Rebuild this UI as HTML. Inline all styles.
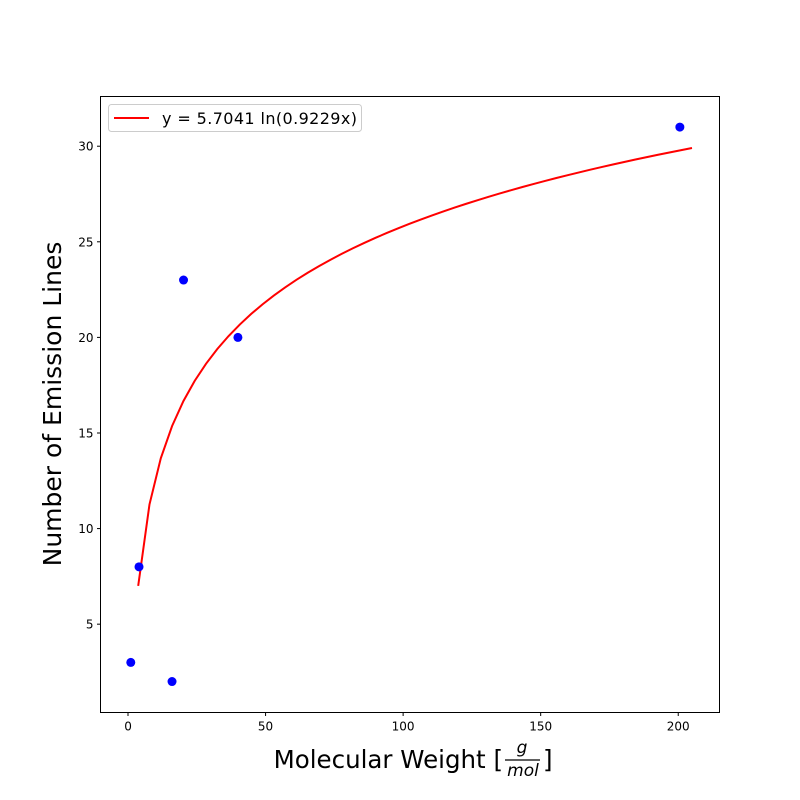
<!DOCTYPE html>
<html><head><meta charset="utf-8">
<style>
body{margin:0;background:#fff;}
svg{display:block;font-family:"DejaVu Sans","Liberation Sans",sans-serif;}
</style></head>
<body>
<svg id="chart" width="800" height="800" viewBox="0 0 800 800">
<rect width="800" height="800" fill="#fff"/>
<g id="marks"></g>
<rect x="100.5" y="96.5" width="619" height="616" fill="none" stroke="#000" stroke-width="1"/>
<g id="ticks"></g>
<text x="503" y="768" font-size="24.5" text-anchor="end">Molecular Weight [</text>
<text x="522" y="753" font-size="17" font-style="italic" text-anchor="middle">g</text>
<line x1="505" y1="760" x2="540" y2="760" stroke="#000" stroke-width="1.2"/>
<text x="523" y="776" font-size="17" font-style="italic" text-anchor="middle">mol</text>
<text x="543" y="768" font-size="24.5">]</text>
<text transform="translate(61,404) rotate(-90)" font-size="25" text-anchor="middle">Number of Emission Lines</text>
<g>
<rect x="108.5" y="104.5" width="253" height="27" rx="3" fill="#fff" stroke="#ccc"/>
<line x1="114" y1="118" x2="149" y2="118" stroke="red" stroke-width="2"/>
<text x="162" y="124" font-size="16" textLength="195">y = 5.7041 ln(0.9229x)</text>
</g>
</svg>
<script>
const pointsX=[1.008,4.0,16.0,20.18,39.95,200.59];
const pointsY=[3,8,2,23,20,31];
const fitCoef=[5.7041,0.9229];
const fitRange=[3.7,205];
const fitCount=50;
const xTicks=[0,50,100,150,200];
const yTicks=[5,10,15,20,25,30];
const X0=100.5,X1=719.5,Y0=712.5,Y1=96.5;
const xMin=-10,xMax=215,yMin=0.38,yMax=32.6;
const sx=v=>X0+(v-xMin)/(xMax-xMin)*(X1-X0);
const sy=v=>Y0-(v-yMin)/(yMax-yMin)*(Y0-Y1);
const NS="http://www.w3.org/2000/svg";
const marks=document.getElementById('marks'),ticks=document.getElementById('ticks');
let d="";
for(let i=0;i<fitCount;i++){
 const x=fitRange[0]+(fitRange[1]-fitRange[0])*i/(fitCount-1);
 const y=fitCoef[0]*Math.log(fitCoef[1]*x);
 d+=(i?"L":"M")+sx(x).toFixed(2)+","+sy(y).toFixed(2);
}
const p=document.createElementNS(NS,'path');
p.setAttribute('d',d);p.setAttribute('fill','none');p.setAttribute('stroke','red');p.setAttribute('stroke-width','2');


marks.appendChild(p);
pointsX.forEach((x,i)=>{
 const c=document.createElementNS(NS,'circle');
 c.setAttribute('cx',sx(x));c.setAttribute('cy',sy(pointsY[i]));c.setAttribute('r',4.5);c.setAttribute('fill','blue');
 
 
 marks.appendChild(c);
});
xTicks.forEach(v=>{
 const l=document.createElementNS(NS,'line');const x=sx(v);
 l.setAttribute('x1',x);l.setAttribute('x2',x);l.setAttribute('y1',Y0);l.setAttribute('y2',Y0+3.5);l.setAttribute('stroke','#000');
 
 
 ticks.appendChild(l);
 const t=document.createElementNS(NS,'text');
 t.setAttribute('x',x);t.setAttribute('y',Y0+18);t.setAttribute('font-size','12');t.setAttribute('text-anchor','middle');t.textContent=v;
 
 
 ticks.appendChild(t);
});
yTicks.forEach(v=>{
 const l=document.createElementNS(NS,'line');const y=sy(v);
 l.setAttribute('x1',X0-3.5);l.setAttribute('x2',X0);l.setAttribute('y1',y);l.setAttribute('y2',y);l.setAttribute('stroke','#000');
 
 
 ticks.appendChild(l);
 const t=document.createElementNS(NS,'text');
 t.setAttribute('x',X0-7);t.setAttribute('y',y+4.5);t.setAttribute('font-size','12');t.setAttribute('text-anchor','end');t.textContent=v;
 
 
 ticks.appendChild(t);
});
</script>
</body></html>
